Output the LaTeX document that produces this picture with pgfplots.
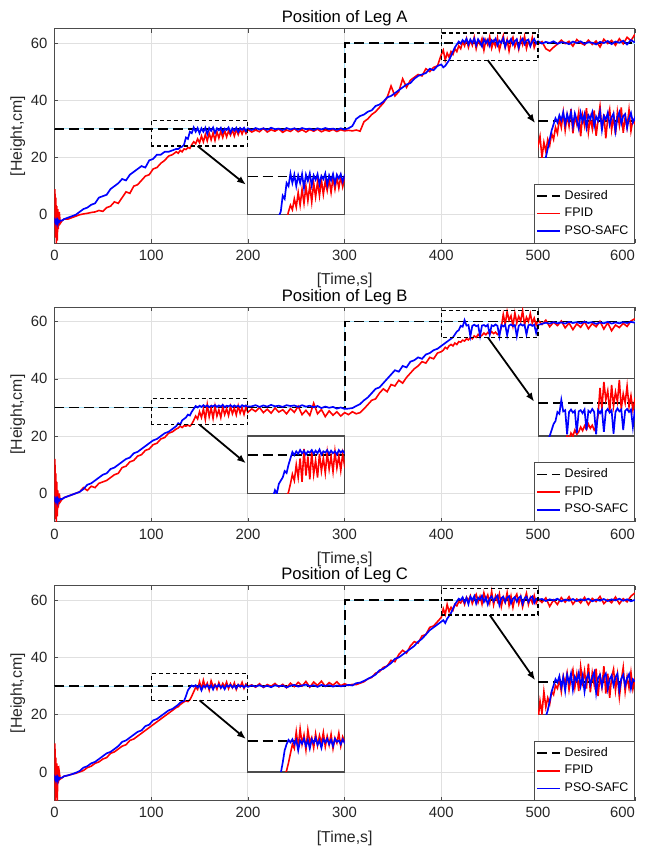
\documentclass[border=0pt]{standalone}
\usepackage{fontspec}
\setmainfont{Liberation Sans}
\usepackage{pgfplots}
\usepackage{pgfplotstable}
\pgfplotsset{compat=1.18}
\usetikzlibrary{arrows.meta}

\newcommand{\fs}{\fontsize{7.5}{9}\selectfont}
\newcommand{\fl}{\fontsize{8}{9.5}\selectfont}

% columns: time, FPID, PSO-SAFC
\pgfplotstableread{
t f p
0 -2 -3
0.5 9 -2
1 -8 -2.5
1.5 6 -3
2 -10 -2
2.5 3 -2.5
3 -9 -2
3.5 2 -3
4 -5 -2
5 1 -2.5
6 -3 -2
8 -2 -2
10 -1.5 -1.5
14 -1.5 -1
18 -1 -0.5
22 -0.5 0
26 0 1
30 0.3 2
34 0.5 2.5
38 0.8 3.5
42 1 4
46 1.5 6
50 1.2 6.5
54 2.5 7
58 3 9
62 4.5 10
66 4 11
70 6 12.5
74 8 12
78 7.5 14
82 10 15
86 10.5 16
90 12 17
94 13.5 16.5
98 14 19
102 16 19.5
106 16.5 21
110 18 21
114 19 22
118 20.5 22
122 21 22.5
126 22 23
128 21.5 23
130 22.5 23.5
132 22 23.8
134 23 24.5
136 22.8 27
138 23.5 26.5
140 23.2 29
142 24.5 28.5
144 25.5 30.5
146 24.8 29
148 26.5 30.3
150 25.2 28.5
152 27.5 30.2
154 25.5 29
156 28 30.4
158 25.8 28.2
160 28.5 30.3
162 26.2 29.3
164 28.6 30.5
166 26 28.6
168 29 30.2
170 26.8 29.5
172 29.2 30.4
174 27 28.8
176 29.5 30.1
178 27.2 29.6
180 29.3 30.5
182 27.8 28.7
184 29.6 30.2
186 27.5 29.4
188 29.8 30.4
190 28 28.9
192 29.9 30.3
194 28.2 29.7
196 30 30.4
198 28.4 29.2
200 29.8 30.2
204 28.9 29.6
208 29.6 30.3
212 29 29.8
216 30.2 30.2
220 28.9 29.7
224 29.7 30.4
228 29.2 29.9
232 30 30.1
236 28.8 29.6
240 29.6 30.3
244 29.1 29.8
248 30.1 30.2
252 29 29.7
256 29.7 30.3
260 28.9 29.9
264 29.8 30.1
268 29.2 29.6
272 29.9 30.2
276 29 29.8
280 29.6 30.3
284 29.2 29.9
288 29.8 30.1
292 29.1 29.7
296 29.7 30.2
300 29.3 29.8
304 29.5 30.2
308 29.3 31
312 29.6 33.5
316 29.2 34.5
320 32.5 35
324 33.5 36
328 35 36.5
332 36 38
336 37.5 38.5
340 39 39.5
344 41 41
348 45 41.5
352 41.5 42.5
356 43 43.5
360 47.5 44.5
364 44.5 45.5
368 47 46
372 48 47.5
376 49 48.5
380 48.5 49
384 51 49.5
388 50 51
392 51.5 50.5
396 52 52
400 56 52.5
402 57.5 51.5
404 54 52
406 56.5 53
408 55 54
410 57 55.5
412 56 57
414 58 58.5
416 57 59.5
418 59 60.5
420 58 59.8
422 60.5 61
424 59 60.2
426 61.5 61.5
428 58.5 59.5
430 61 61.2
432 59.2 60
434 62 61.5
436 58 59.2
438 60.8 61.3
440 59.5 60.2
442 61.5 58.8
444 57.5 61.4
446 61 60
448 59.3 61.2
450 62.2 59
452 58.2 61
454 60.6 60.4
456 58.8 61.5
458 61.8 59.2
460 57.6 60.8
462 60.2 60.1
464 62.5 61.6
466 58.5 58.6
468 61.2 60.9
470 57.2 60.3
472 60.5 61.4
474 62 59.4
476 58.6 60.7
478 60.9 61.3
480 57.8 58.4
482 61.6 60.6
484 59.4 61.5
486 62.3 59.6
488 58.1 60.9
490 60.7 61.2
492 59 58.9
494 61.9 60.5
496 58.4 61.4
498 60.3 59.8
500 59.6 60.6
504 60.5 59.8
508 58 60.4
512 57.2 60
516 58.5 60.6
520 59.6 59.7
524 61 60.3
528 59.8 60.1
532 60.6 59.6
536 58.9 60.5
540 61.2 60
544 60 60.6
548 59.3 59.7
552 61 60.3
556 59.5 60.1
560 60.7 59.5
564 58.6 60.4
568 61.3 60
572 59.8 60.7
576 60.9 59.6
580 59.2 60.5
584 61.5 60.1
588 59.7 60.8
592 62 59.5
596 60.8 61
600 63 60.2
}\dataA

\pgfplotstableread{
t f p
0 -2 -3
0.5 12 -2
1 -9 -2.5
1.5 7 -3
2 -10 -2
2.5 4 -2.5
3 -8 -2
3.5 1 -3
4 -5 -2
5 0 -2.5
6 -3 -2
8 -2 -2
10 -1.5 -1.5
14 -1 -1
18 -0.5 -0.5
22 0 0
26 0.5 0.5
30 2 1.5
34 1 3
38 2.5 3.5
42 2 4.5
46 3.5 5.5
50 4 6.5
54 4.5 7
58 5.5 8.5
62 6.5 9
66 7 10
70 9 11
74 9.5 12
78 11 12.5
82 11.5 14
86 13 14.5
90 13.5 15.5
94 15 16.5
98 15.5 17.5
102 17 18.5
106 17.5 19
110 19 20
114 19.5 21
118 21 21.5
122 21.5 22.5
126 22.5 23.5
128 22.8 24.5
130 23.5 24
132 23 25.5
134 23.6 26
136 23.5 26.5
138 23.8 27.5
140 23.5 27.2
142 24.2 28.5
144 25.5 29.5
146 27 30.5
148 26 30
150 28.5 30.6
152 26.5 30.2
154 29.5 30.8
156 25.8 30.3
158 31 30.7
160 26.8 30.1
162 29.8 30.6
164 26.2 30.4
166 30.5 30.8
168 27 30.2
170 29.2 30.7
172 26.5 30.3
174 30.2 30.9
176 27.5 30.1
178 29.6 30.6
180 27.2 30.4
182 30.4 30.8
184 27.8 30.2
186 29.8 30.7
188 27.4 30.3
190 30.6 30.6
192 28 30.1
194 29.9 30.8
196 27.6 30.4
198 30.2 30.7
200 28.3 30.3
204 29.5 30.4
208 28.6 30.8
212 30 30.2
216 28.2 30.7
220 29.4 30.3
224 28 30.9
228 29.8 30.4
232 28.4 30.6
236 29.2 30.2
240 27.8 30.8
244 29.6 30.5
248 28.3 30.7
252 30.4 30.2
256 27.5 30.8
260 29 30.3
264 27.2 30.6
268 31.5 30.1
272 27.8 30.5
276 29.3 29.8
280 26.8 30.3
284 28.8 29.9
288 27.3 30.2
292 28.5 29.6
296 27 30
300 28.2 29.5
304 27.5 29.6
308 28.5 29.8
312 27.8 30.5
316 28.2 31.2
320 29.5 32.5
324 31 33.5
328 32.5 35
332 33 36.5
336 35 37
340 36.5 38.5
344 35.5 40
348 38 41.5
352 37.5 43
356 39.5 42.5
360 38.5 44.5
364 40.5 44
368 42 46
372 43.5 46.5
376 44.5 47.5
380 46 47
384 45.5 48.5
388 47.5 49
392 47 50
396 49 50.5
400 49.5 51.5
402 50 52
404 51 52.5
406 50.5 53
408 51.5 53.5
410 52 54
412 51.5 54.5
414 52.5 55.5
416 52 56.5
418 53 57
420 52.8 58.5
422 53.5 58.2
424 53.2 60.5
426 54 58.6
428 53.6 58.8
430 54.5 54.8
432 54 58.5
434 55 58.9
436 54.5 58.4
438 55.5 58.7
440 54.8 55
442 55.2 58.6
444 56 58.8
446 55.4 58.3
448 56.2 58.9
450 55.6 55.5
452 56.5 58.7
454 55.8 58.4
456 56.3 59
458 55.5 58.5
460 56 54.8
462 58 58.8
464 62.5 58.3
466 59 58.9
468 63.5 55.2
470 60.5 58.6
472 62 59
474 58.5 58.4
476 63 58.8
478 59.5 54.9
480 61.8 58.5
482 60.2 59.1
484 63.8 58.6
486 59 58.9
488 61.5 55.5
490 60 58.7
492 62.8 59
494 59.4 58.5
496 61.2 58.9
498 58.8 56
500 60.5 58.8
504 59 59.2
508 60.5 59.6
512 58.2 59.3
516 59.8 59.8
520 58.6 59.4
524 60.2 59.7
528 57.8 59.3
532 59.5 59.9
536 57.2 59.5
540 59.2 59.8
544 58 59.4
548 60 59.9
552 57.5 59.5
556 59.3 59.8
560 58.2 59.2
564 60.1 59.7
568 57.4 59.4
572 59.6 59.9
576 56.8 59.3
580 58.8 59.7
584 57.9 59.4
588 59.4 59.8
592 58.3 59.5
596 60.2 59.9
600 61 59.6
}\dataB

\pgfplotstableread{
t f p
0 -2 -3
0.5 10 -2
1 -10 -2.5
1.5 5 -3
2 -9 -2
2.5 3 -2.5
3 -10 -2
3.5 2 -3
4 -4 -2
5 0 -2.5
6 -2.5 -2
8 -2 -2
10 -1.5 -1.5
14 -1.2 -1.2
18 -0.8 -0.8
22 -0.5 -0.3
26 0 0.3
30 0.5 1.5
34 1.5 2
38 2 3
42 3 3.5
46 3.5 4.5
50 4.5 5.5
54 5 6.5
58 6.5 7
62 7 8
66 8 9
70 9 10.5
74 9.5 11
78 11 12
82 11.5 13
86 12.5 14
90 13.5 14.5
94 14.5 16
98 15.5 16.5
102 16.5 18
106 17.5 18.5
110 18.5 19.5
114 19.5 20.5
118 20.5 21.5
122 21.5 22
126 22.5 23
128 22.8 23.5
130 23.5 24.2
132 24 24.6
134 24.5 24.8
136 24.8 26.5
138 24.6 28.5
140 25.2 29.5
142 26.5 30.2
144 28 29.8
146 29.5 30.3
148 28.8 29.5
150 31.5 30.2
152 29 28.5
154 32 30.1
156 29.5 29.6
158 31 30.4
160 28.6 29.2
162 31.8 30.2
164 29.8 28.8
166 30.6 30.3
168 28.9 29.7
170 31.2 30.5
172 29.3 29.4
174 30.9 30.1
176 29.6 28.9
178 31.4 30.3
180 29.1 29.8
182 30.8 30.4
184 29.4 29.5
186 31.1 30.2
188 28.8 29.2
190 30.5 30.4
192 29.7 29.9
194 31.3 30.1
196 29.2 29.5
198 30.7 30.3
200 29.9 29.7
204 30.4 30.2
208 29.6 29.8
212 30.8 30.3
216 29.5 29.7
220 30.5 30.1
224 29.9 29.6
228 30.9 30.3
232 29.7 29.9
236 30.6 30.2
240 29.4 29.5
244 31 30.1
248 29.8 30.4
252 31.3 29.8
256 30 30.2
260 31.6 30.5
264 29.6 29.9
268 31.4 30.3
272 30.2 29.7
276 31.7 30.4
280 29.9 30
284 31.2 30.3
288 30.3 29.8
292 31.5 30.2
296 30.1 29.9
300 30.8 30.1
304 30.2 30.4
308 30.6 30.2
312 30.5 31
316 31 31.2
320 31.5 31.8
324 32.5 32.5
328 33 33.2
332 34.5 34
336 35 35.5
340 36.5 36
344 37 37
348 39 38
352 38.5 39.5
356 41 40
360 42.5 41
364 41.5 42
368 44 43
372 45.5 44
376 45 45.5
380 47.5 46.5
384 48 48
388 50.5 49.5
392 51 50.5
396 52.5 51.5
400 54 52.5
402 57 53
404 55 52
406 58.5 53.5
408 56 54.5
410 57.5 55.5
412 56.5 57
414 58.5 58.5
416 58 59.5
418 59.5 60.5
420 59 60
422 60.5 61
424 58.5 59.2
426 61 60.8
428 59.8 58.6
430 61.5 61.2
432 58.8 60
434 60.7 61.4
436 62 58.8
438 59.2 60.9
440 61.3 60.2
442 58.6 61.5
444 62.5 59.4
446 60 61
448 61.8 58.5
450 59 60.6
452 63 61.3
454 58.4 59.6
456 61.5 60.8
458 59.6 61.6
460 62.2 58.3
462 57.8 60.7
464 61 61.2
466 59.2 59.3
468 62.6 60.9
470 58.2 61.4
472 61.4 58.9
474 57.5 60.5
476 60.8 61.1
478 62.1 59.5
480 58.7 60.8
482 61.2 61.4
484 57.6 58.7
486 60.3 60.6
488 62.4 61.2
490 58.5 59.4
492 60.9 60.7
494 59.1 61.3
496 61.6 59
498 58.9 60.5
500 60.4 60.2
504 59.2 60.4
508 60.8 59.7
512 57.8 60.3
516 60.1 59.9
520 58.5 60.5
524 60.9 59.6
528 59.3 60.2
532 61.2 59.8
536 58.6 60.4
540 60.4 59.7
544 59 60.3
548 61 59.9
552 58.4 60.5
556 60.6 59.6
560 59.5 60.2
564 61.3 59.8
568 58.8 60.4
572 60.2 59.7
576 59.1 60.3
580 61.1 59.9
584 58.7 60.5
588 60.5 59.8
592 59.4 60.3
596 61.4 59.6
600 62.5 60.1
}\dataC

\tikzset{
  des/.style={black, line width=0.9pt, dash pattern=on 5pt off 2.5pt},
  fpid/.style={red, line width=0.8pt},
  pso/.style={blue, line width=0.85pt},
  box/.style={black, line width=0.6pt, dash pattern=on 2pt off 1.5pt},
  arr/.style={black, line width=0.9pt, -{Latex[length=4.5pt,width=3.5pt]}},
}

\pgfplotsset{
  mainax/.style={
    scale only axis, width=293.25pt, height=108.5pt,
    xmin=0, xmax=600, ymin=-10, ymax=65,
    xtick={0,100,...,600}, ytick={0,20,40,60},
    xticklabels={0,100,200,300,400,500,\llap{600}},
    grid=major, major grid style={black!12, line width=0.4pt},
    axis line style={black!70, line width=0.5pt},
    tick style={black!70}, tick align=inside, major tick length=2pt,
    tick label style={font=\fs, text=black!85},
    /pgf/number format/assume math mode=true,
    xlabel={[Time,s]}, ylabel={[Height,cm]},
    every axis x label/.style={at={(rel axis cs:0.5,0)}, anchor=base,
      yshift=-21pt, font=\fl, text=black!85},
    every axis y label/.style={at={(rel axis cs:0,0.5)}, anchor=center,
      xshift=-18.5pt, rotate=90, font=\fl, text=black!85},
    every axis title/.style={at={(0.5,1)}, anchor=base, yshift=3pt,
      font=\fontsize{8.4}{10}\selectfont},
    legend cell align=left,
    legend style={at={(1,0)}, anchor=south east, draw=black!70, fill=white,
      font=\fontsize{6.3}{7.5}\selectfont, inner sep=1pt, row sep=-1pt},
    legend image code/.code={\draw[#1] (0pt,0pt) -- (11.5pt,0pt);},
  },
  inax/.style={
    scale only axis, width=48.875pt, height=28.933pt, anchor=south west,
    ticks=none, axis background/.style={fill=white},
    axis line style={black!70, line width=0.6pt},
  },
}

\begin{document}
\begin{tikzpicture}

% ---------- Leg A ----------
\begin{axis}[mainax, at={(0,0)}, title={Position of Leg A}]
  \addplot[cyan!35, line width=0.5pt, forget plot] coordinates {(0,30)(300,30)(300,60)(600,60)};
  \addplot[des] coordinates {(0,30)(300,30)(300,60)(600,60)};
  \addlegendentry{Desired}
  \addplot[fpid] table[x=t,y=f]{\dataA};
  \addlegendentry{FPID}
  \addplot[pso] table[x=t,y=p]{\dataA};
  \addlegendentry{PSO-SAFC}
  \draw[box] (axis cs:100,24) rectangle (axis cs:200,33);
  \draw[box] (axis cs:400,54) rectangle (axis cs:500,63.5);
  \draw[arr] (axis cs:148,24) -- (axis cs:198,10.5);
  \draw[arr] (axis cs:448,54) -- (axis cs:497,32);
  \coordinate (A1) at (axis cs:200,0);
  \coordinate (A2) at (axis cs:500,20);
  \coordinate (Atr) at (rel axis cs:1,1);
\end{axis}
\begin{axis}[inax, at={(A1)}, xmin=100, xmax=200, ymin=24, ymax=33]
  \addplot[des] coordinates {(100,30)(200,30)};
  \addplot[fpid] table[x=t,y=f]{\dataA};
  \addplot[pso] table[x=t,y=p]{\dataA};
\end{axis}
\begin{axis}[inax, at={(A2)}, xmin=400, xmax=500, ymin=54, ymax=63.5]
  \addplot[des] coordinates {(400,60)(500,60)};
  \addplot[fpid] table[x=t,y=f]{\dataA};
  \addplot[pso] table[x=t,y=p]{\dataA};
\end{axis}

% ---------- Leg B ----------
\begin{axis}[mainax, at={(0,-140.75pt)}, title={Position of Leg B}]
  \addplot[cyan!35, line width=0.5pt, forget plot] coordinates {(0,30)(300,30)(300,60)(600,60)};
  \addplot[des] coordinates {(0,30)(300,30)(300,60)(600,60)};
  \addlegendentry{Desired}
  \addplot[fpid] table[x=t,y=f]{\dataB};
  \addlegendentry{FPID}
  \addplot[pso] table[x=t,y=p]{\dataB};
  \addlegendentry{PSO-SAFC}
  \draw[box] (axis cs:100,24) rectangle (axis cs:200,33);
  \draw[box] (axis cs:400,54.5) rectangle (axis cs:500,64);
  \draw[arr] (axis cs:150,24) -- (axis cs:198,10.5);
  \draw[arr] (axis cs:448,54.5) -- (axis cs:496,32);
  \coordinate (B1) at (axis cs:200,0);
  \coordinate (B2) at (axis cs:500,20);
\end{axis}
\begin{axis}[inax, at={(B1)}, xmin=100, xmax=200, ymin=24, ymax=33]
  \addplot[des] coordinates {(100,30)(200,30)};
  \addplot[fpid] table[x=t,y=f]{\dataB};
  \addplot[pso] table[x=t,y=p]{\dataB};
\end{axis}
\begin{axis}[inax, at={(B2)}, xmin=400, xmax=500, ymin=54.5, ymax=64]
  \addplot[des] coordinates {(400,60)(500,60)};
  \addplot[fpid] table[x=t,y=f]{\dataB};
  \addplot[pso] table[x=t,y=p]{\dataB};
\end{axis}

% ---------- Leg C ----------
\begin{axis}[mainax, at={(0,-281.5pt)}, title={Position of Leg C}]
  \addplot[cyan!35, line width=0.5pt, forget plot] coordinates {(0,30)(300,30)(300,60)(600,60)};
  \addplot[des] coordinates {(0,30)(300,30)(300,60)(600,60)};
  \addlegendentry{Desired}
  \addplot[fpid] table[x=t,y=f]{\dataC};
  \addlegendentry{FPID}
  \addplot[pso] table[x=t,y=p]{\dataC};
  \addlegendentry{PSO-SAFC}
  \draw[box] (axis cs:100,25) rectangle (axis cs:200,34.3);
  \draw[box] (axis cs:400,54.8) rectangle (axis cs:500,64);
  \draw[arr] (axis cs:150,25) -- (axis cs:198,11.5);
  \draw[arr] (axis cs:450,54.8) -- (axis cs:497,32);
  \coordinate (C1) at (axis cs:200,0);
  \coordinate (C2) at (axis cs:500,20);
  \coordinate (Cbl) at (rel axis cs:0,0);
\end{axis}
\begin{axis}[inax, at={(C1)}, xmin=100, xmax=200, ymin=25, ymax=34.3]
  \addplot[des] coordinates {(100,30)(200,30)};
  \addplot[fpid] table[x=t,y=f]{\dataC};
  \addplot[pso] table[x=t,y=p]{\dataC};
\end{axis}
\begin{axis}[inax, at={(C2)}, xmin=400, xmax=500, ymin=54.8, ymax=64]
  \addplot[des] coordinates {(400,60)(500,60)};
  \addplot[fpid] table[x=t,y=f]{\dataC};
  \addplot[pso] table[x=t,y=p]{\dataC};
\end{axis}

% white margins as in the reference
\path ([xshift=-27.5pt,yshift=-24pt]Cbl) rectangle ([xshift=5.5pt,yshift=14.5pt]Atr);

\end{tikzpicture}
\end{document}
